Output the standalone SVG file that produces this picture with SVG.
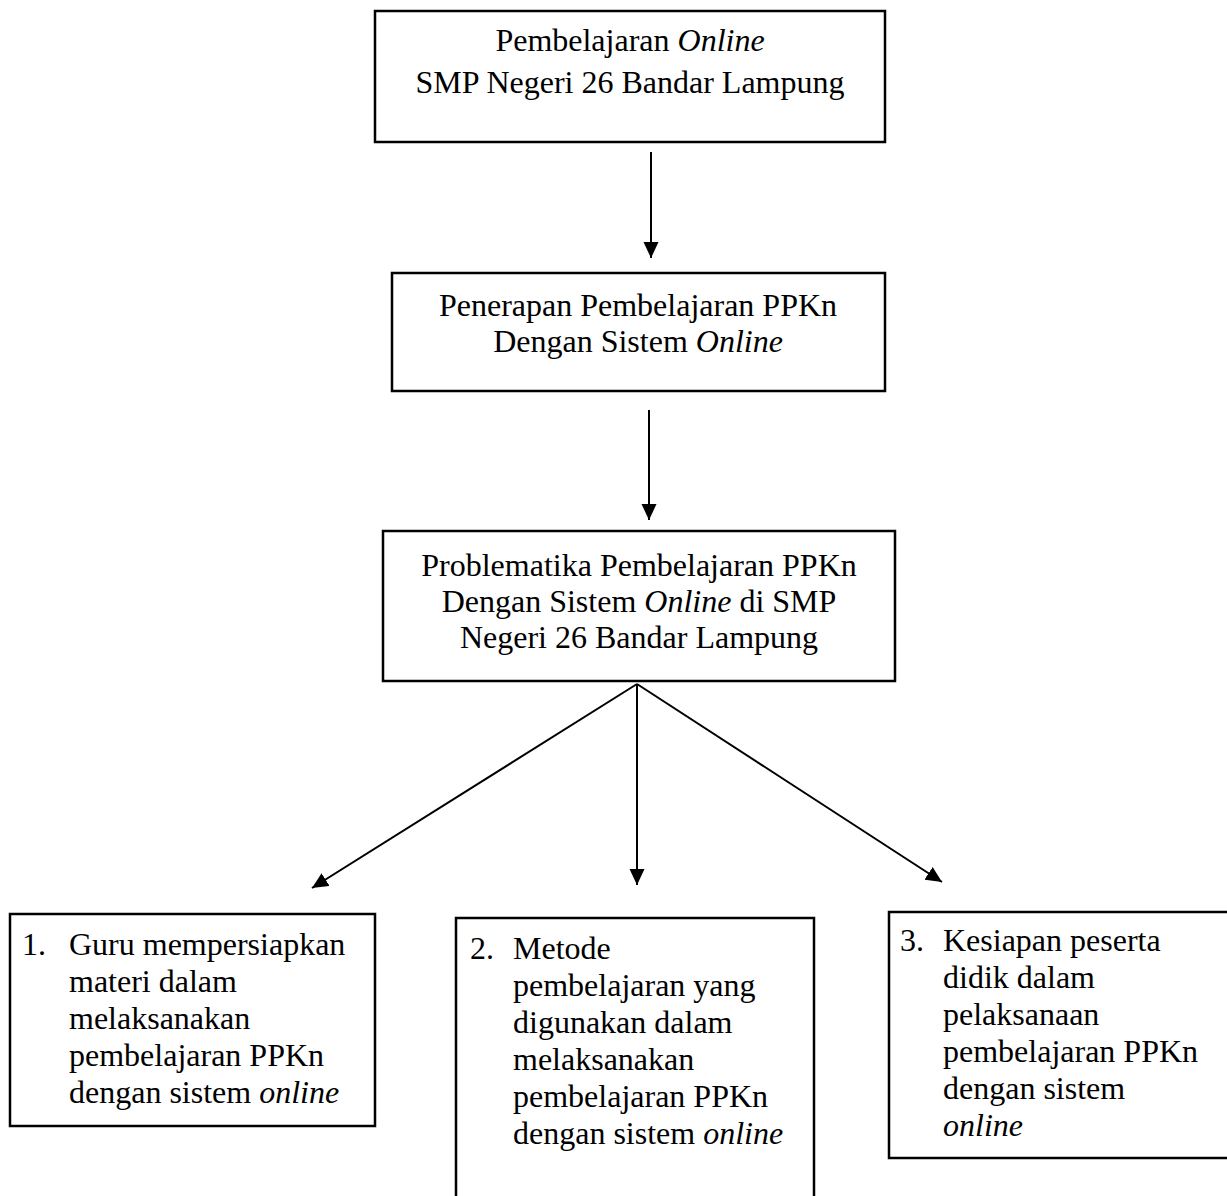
<svg xmlns="http://www.w3.org/2000/svg" width="1227" height="1196" viewBox="0 0 1227 1196">
<style>
.box{fill:#fff;stroke:#000;stroke-width:2.5}
.t{font-family:"Liberation Serif","Times New Roman",serif;font-size:32px;fill:#000}
.c{text-anchor:middle}
.i{font-style:italic}
.con{stroke:#000;stroke-width:2;fill:none}
</style>
<defs>
<marker id="ah" markerUnits="userSpaceOnUse" markerWidth="16" markerHeight="16" refX="16" refY="8" orient="auto">
<path d="M0,0.5 L16,8 L0,15.5 Z" fill="#000"/>
</marker>
</defs>
<rect width="1227" height="1196" fill="#fff"/>
<g id="connectors">
<line class="con" x1="651" y1="152" x2="651" y2="258" marker-end="url(#ah)"/>
<line class="con" x1="649" y1="410" x2="649" y2="520" marker-end="url(#ah)"/>
<line class="con" x1="637" y1="684" x2="312" y2="888" marker-end="url(#ah)"/>
<line class="con" x1="637" y1="684" x2="637" y2="885" marker-end="url(#ah)"/>
<line class="con" x1="637" y1="684" x2="942" y2="882" marker-end="url(#ah)"/>
</g>
<g id="n1">
<rect class="box" x="375" y="11" width="510" height="131"/>
<text class="t c" x="630" y="51">Pembelajaran <tspan class="i">Online</tspan></text>
<text class="t c" x="630" y="93">SMP Negeri 26 Bandar Lampung</text>
</g>
<g id="n2">
<rect class="box" x="392" y="273" width="493" height="118"/>
<text class="t c" x="638" y="316">Penerapan Pembelajaran PPKn</text>
<text class="t c" x="638" y="352">Dengan Sistem <tspan class="i">Online</tspan></text>
</g>
<g id="n3">
<rect class="box" x="383" y="531" width="512" height="150"/>
<text class="t c" x="639" y="576">Problematika Pembelajaran PPKn</text>
<text class="t c" x="639" y="612">Dengan Sistem <tspan class="i">Online</tspan> di SMP</text>
<text class="t c" x="639" y="648">Negeri 26 Bandar Lampung</text>
</g>
<g id="n4">
<rect class="box" x="10" y="914" width="365" height="212"/>
<text class="t" x="22" y="955">1.</text>
<text class="t" x="69" y="955">Guru mempersiapkan</text>
<text class="t" x="69" y="992">materi dalam</text>
<text class="t" x="69" y="1029">melaksanakan</text>
<text class="t" x="69" y="1066">pembelajaran PPKn</text>
<text class="t" x="69" y="1103">dengan sistem <tspan class="i">online</tspan></text>
</g>
<g id="n5">
<rect class="box" x="456" y="918" width="358" height="300"/>
<text class="t" x="470" y="959">2.</text>
<text class="t" x="513" y="959">Metode</text>
<text class="t" x="513" y="996">pembelajaran yang</text>
<text class="t" x="513" y="1033">digunakan dalam</text>
<text class="t" x="513" y="1070">melaksanakan</text>
<text class="t" x="513" y="1107">pembelajaran PPKn</text>
<text class="t" x="513" y="1144">dengan sistem <tspan class="i">online</tspan></text>
</g>
<g id="n6">
<rect class="box" x="889" y="912" width="345" height="246"/>
<text class="t" x="900" y="951">3.</text>
<text class="t" x="943" y="951">Kesiapan peserta</text>
<text class="t" x="943" y="988">didik dalam</text>
<text class="t" x="943" y="1025">pelaksanaan</text>
<text class="t" x="943" y="1062">pembelajaran PPKn</text>
<text class="t" x="943" y="1099">dengan sistem</text>
<text class="t i" x="943" y="1136">online</text>
</g>
</svg>
